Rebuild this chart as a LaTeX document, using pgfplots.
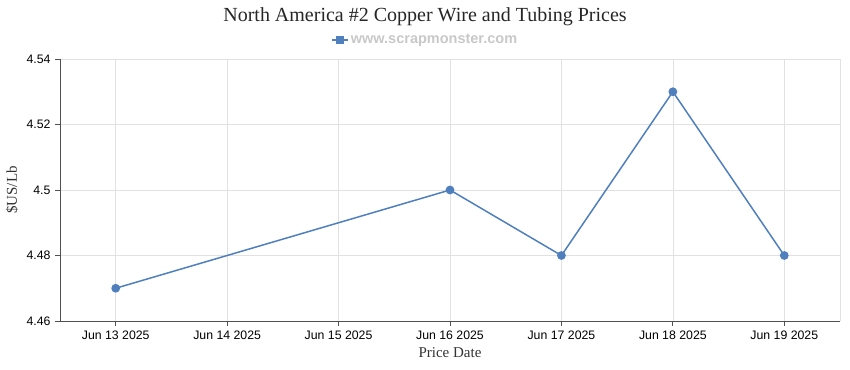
\documentclass[border=0pt]{standalone}
\usepackage{fontspec}
\setmainfont{Liberation Serif}
\newfontfamily\ticksans{Liberation Sans}
\usepackage{pgfplots}
\pgfplotsset{compat=1.18}
\definecolor{series}{RGB}{79,127,189}
\definecolor{gridc}{RGB}{225,225,225}
\definecolor{axisc}{RGB}{80,80,80}
\definecolor{legc}{RGB}{200,200,200}
\begin{document}
\begin{tikzpicture}
\begin{axis}[
  scale only axis,
  width=780bp, height=262bp,
  xmin=-0.5, xmax=6.5,
  ymin=4.46, ymax=4.54,
  xtick={0,1,2,3,4,5,6},
  xticklabels={Jun 13 2025,Jun 14 2025,Jun 15 2025,Jun 16 2025,Jun 17 2025,Jun 18 2025,Jun 19 2025},
  extra x ticks={6.5},
  extra x tick labels={},
  extra x tick style={major tick length=0pt, grid=major},
  ytick={4.46,4.48,4.5,4.52,4.54},
  yticklabels={4.46,4.48,4.5,4.52,4.54},
  axis x line*=bottom,
  axis y line*=left,
  axis line style={axisc, line width=0.8bp, -},
  grid=major,
  major grid style={gridc, line width=0.6bp},
  tick align=outside,
  major tick length=5bp,
  tick style={axisc, line width=0.8bp},
  tick label style={font=\ticksans\fontsize{12.3bp}{14bp}\selectfont, black},
  /pgf/number format/assume math mode=true,
  xticklabel style={yshift=-1bp},
  yticklabel style={xshift=-1bp},
  title={North America \#2 Copper Wire and Tubing Prices},
  title style={at={(axis description cs:0.468,1.137)}, anchor=center, yshift=0pt,
    font=\fontsize{20bp}{23bp}\selectfont, text=black!85},
  xlabel={Price Date},
  xlabel style={at={(axis description cs:0.5,-0.122)}, anchor=center,
    font=\fontsize{15bp}{17bp}\selectfont, text=black!80},
  ylabel={\$US/Lb},
  ylabel style={at={(axis description cs:-0.0615,0.5)}, anchor=center,
    font=\fontsize{15bp}{17bp}\selectfont, text=black!80},
  legend style={at={(axis description cs:0.468,1.0725)}, anchor=center,
    draw=none, fill=none, font=\ticksans\bfseries\fontsize{14.5bp}{16bp}\selectfont,
    text=legc, inner sep=0pt},
  legend image code/.code={
    \draw[series, line width=2bp] (0bp,0bp) -- (16bp,0bp);
    \fill[series] (5bp,-3bp) rectangle (11bp,3bp);
  },
  clip=false,
]
\addplot[series, line width=1.5bp, mark=*, mark size=3.6bp, mark options={fill=series, draw=series}]
  coordinates {(0,4.47) (3,4.50) (4,4.48) (5,4.53) (6,4.48)};
\addlegendentry{www.scrapmonster.com}
\end{axis}
\pgfresetboundingbox
\path[use as bounding box] (current axis.south west) ++(-60bp,-49bp) rectangle ([shift={(10bp,59bp)}]current axis.north east);
\end{tikzpicture}
\end{document}
